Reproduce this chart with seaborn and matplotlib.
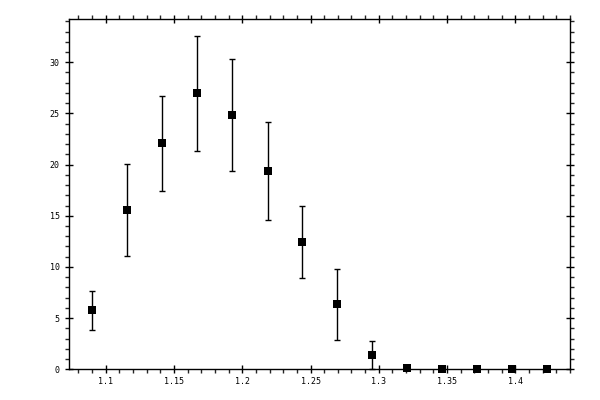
import numpy as np
import matplotlib
matplotlib.use('Agg')
import matplotlib.pyplot as plt
import seaborn as sns
from matplotlib.ticker import MultipleLocator

x_vals = [1.0902, 1.1158, 1.1415, 1.1672, 1.1928, 1.2185, 1.2441,
          1.2697, 1.2953, 1.3210, 1.3466, 1.3722, 1.3978, 1.4235]
y_vals = [5.75, 15.55, 22.1, 26.95, 24.85, 19.35, 12.4,
          6.35, 1.4, 0.1, 0.02, 0.0, 0.0, 0.0]
y_err = [1.9, 4.5, 4.65, 5.6, 5.45, 4.8, 3.52,
         3.45, 1.33, 0.0, 0.0, 0.0, 0.0, 0.0]

sns.set_style('ticks')
plt.rcParams['font.family'] = ['DejaVu Sans Mono']

fig = plt.figure(figsize=(6, 4), dpi=100)
ax = fig.add_axes([0.1155, 0.0768, 0.835, 0.875])

ax.errorbar(x_vals, y_vals, yerr=y_err, fmt='none', ecolor='black',
            elinewidth=1, capsize=2.5, capthick=1, clip_on=False)
sns.scatterplot(x=x_vals, y=y_vals, marker='s', s=30, color='black',
                edgecolor='black', linewidth=0, ax=ax, clip_on=False, zorder=3)

ax.set_xlim(1.0733, 1.4403)
ax.set_ylim(0, 34.2)
ax.xaxis.set_major_locator(MultipleLocator(0.05))
ax.xaxis.set_minor_locator(MultipleLocator(0.01))
ax.yaxis.set_major_locator(MultipleLocator(5))
ax.yaxis.set_minor_locator(MultipleLocator(1))
ax.set_xticks([1.1, 1.15, 1.2, 1.25, 1.3, 1.35, 1.4])
ax.set_xticklabels(['1.1', '1.15', '1.2', '1.25', '1.3', '1.35', '1.4'])
ax.set_yticks([0, 5, 10, 15, 20, 25, 30])
ax.set_yticklabels(['0', '5', '10', '15', '20', '25', '30'])

for s in ax.spines.values():
    s.set_linewidth(1)
    s.set_color('black')
    s.set_visible(True)

ax.tick_params(which='major', direction='inout', length=5.8, width=1,
               top=True, right=True, labelsize=6, colors='black')
ax.tick_params(which='minor', direction='out', length=2.6, width=1,
               top=True, right=True)
ax.tick_params(axis='x', which='major', pad=3)
ax.tick_params(axis='y', which='major', pad=4)
ax.set_xlabel('')
ax.set_ylabel('')

fig.savefig('out.png', dpi=100)
